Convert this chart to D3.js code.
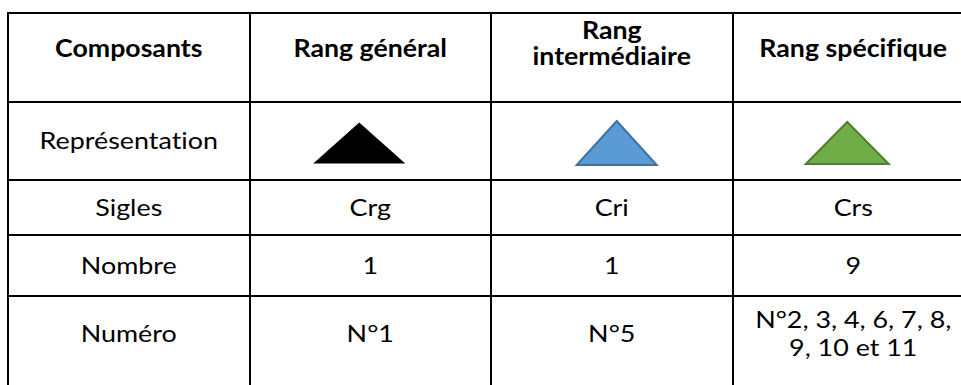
<!DOCTYPE html>
<html><head><meta charset="utf-8">
<script src="https://cdn.jsdelivr.net/npm/d3@7"></script>
<style>body{margin:0;background:#fff;overflow:hidden} text{font-variant-ligatures:none;font-feature-settings:"liga" 0,"clig" 0}</style>
</head><body>
<svg id="c" width="961" height="385"></svg>
<script>
// ---- data ----
const headers = [["Composants"], ["Rang général"], ["Rang", "intermédiaire"], ["Rang spécifique"]];
const rowLabels = ["Représentation", "Sigles", "Nombre", "Numéro"];
const categories = ["Rang général", "Rang intermédiaire", "Rang spécifique"];
const sigles = ["Crg", "Cri", "Crs"];
const nombres = [1, 1, 9];
const numeros = [["N°1"], ["N°5"], ["N°2, 3, 4, 6, 7, 8,", "9, 10 et 11"]];

// ---- styles / layout ----
const fills = ["#000000", "#5B9BD5", "#70AD47"];
const strokes = ["#000000", "#41719C", "#507E32"];
const triW = [92, 80, 83], triH = [41, 44, 42], triDx = [-11, 5, -6];
const W = 961, H = 385;
const font = "Lato, 'Open Sans', sans-serif";
const fs = 24, capH = fs * 0.7165;

const svg = d3.select("#c");
const x = d3.scaleBand().domain(d3.range(4)).range([8, 974]);
const rowTop = d3.scaleOrdinal().domain(d3.range(5)).range([13, 102, 180, 235, 296]);
const textY = d3.scaleOrdinal().domain(d3.range(5)).range([48.5, 140, 207.5, 265.5, 333.5]);
const multiY = d3.scaleOrdinal().domain(d3.range(5)).range([43.5, 140, 207.5, 265.5, 333.5]);
const lineHs = d3.scaleOrdinal().domain(d3.range(5)).range([26, 28, 28, 28, 28]);

function measure(t, bold) {
  const n = svg.append("text").attr("font-family", font).attr("font-size", fs)
    .attr("font-weight", bold ? 700 : 400).text(t);
  const w = n.node().getComputedTextLength(); n.remove(); return w;
}
const sxReg = 96 / measure("Nombre", false);
const sxBold = 147.5 / measure("Composants", true);

function cellText(lines, col, row, bold) {
  const cx = x(col) + x.bandwidth() / 2;
  const n = lines.length;
  const cy = n > 1 ? multiY(row) : textY(row);
  const lh = lineHs(row);
  const g = svg.append("g");
  lines.forEach((ln, i) => {
    const base = cy + capH / 2 + (i - (n - 1) / 2) * lh;
    g.append("text")
      .attr("transform", `translate(${cx},${base}) scale(${bold ? sxBold : sxReg},1)`)
      .attr("text-anchor", "middle")
      .attr("font-family", font).attr("font-size", fs)
      .attr("font-weight", bold ? 700 : 400)
      .attr("fill", "#000").text(ln);
  });
}

const grid = svg.append("g").attr("stroke", "#000").attr("stroke-width", 2).attr("shape-rendering", "crispEdges");
d3.range(5).forEach(r => grid.append("line").attr("x1", 7).attr("x2", W + 20).attr("y1", rowTop(r)).attr("y2", rowTop(r)));
d3.range(5).forEach(c => {
  const xx = c < 4 ? x(c) : x.range()[1];
  grid.append("line").attr("x1", xx).attr("x2", xx).attr("y1", 12).attr("y2", H + 20);
});

headers.forEach((h, i) => cellText(h, i, 0, true));
rowLabels.forEach((l, i) => cellText([l], 0, i + 1, false));

categories.forEach((c, i) => {
  const cx = x(i + 1) + x.bandwidth() / 2 + triDx[i];
  const cy = 142;
  const p = d3.path();
  const by = cy + triH[i] / 2 + 1, ty = by - triH[i];
  p.moveTo(cx - triW[i] / 2, by);
  p.lineTo(cx, ty);
  p.lineTo(cx + triW[i] / 2, by);
  p.closePath();
  svg.append("path").attr("d", p.toString()).attr("fill", fills[i])
    .attr("stroke", strokes[i]).attr("stroke-width", i === 0 ? 0 : 2).attr("stroke-linejoin", "miter");
});

sigles.forEach((s, i) => cellText([s], i + 1, 2, false));
nombres.forEach((v, i) => cellText([String(v)], i + 1, 3, false));
numeros.forEach((v, i) => cellText(v, i + 1, 4, false));
</script>
</body></html>
